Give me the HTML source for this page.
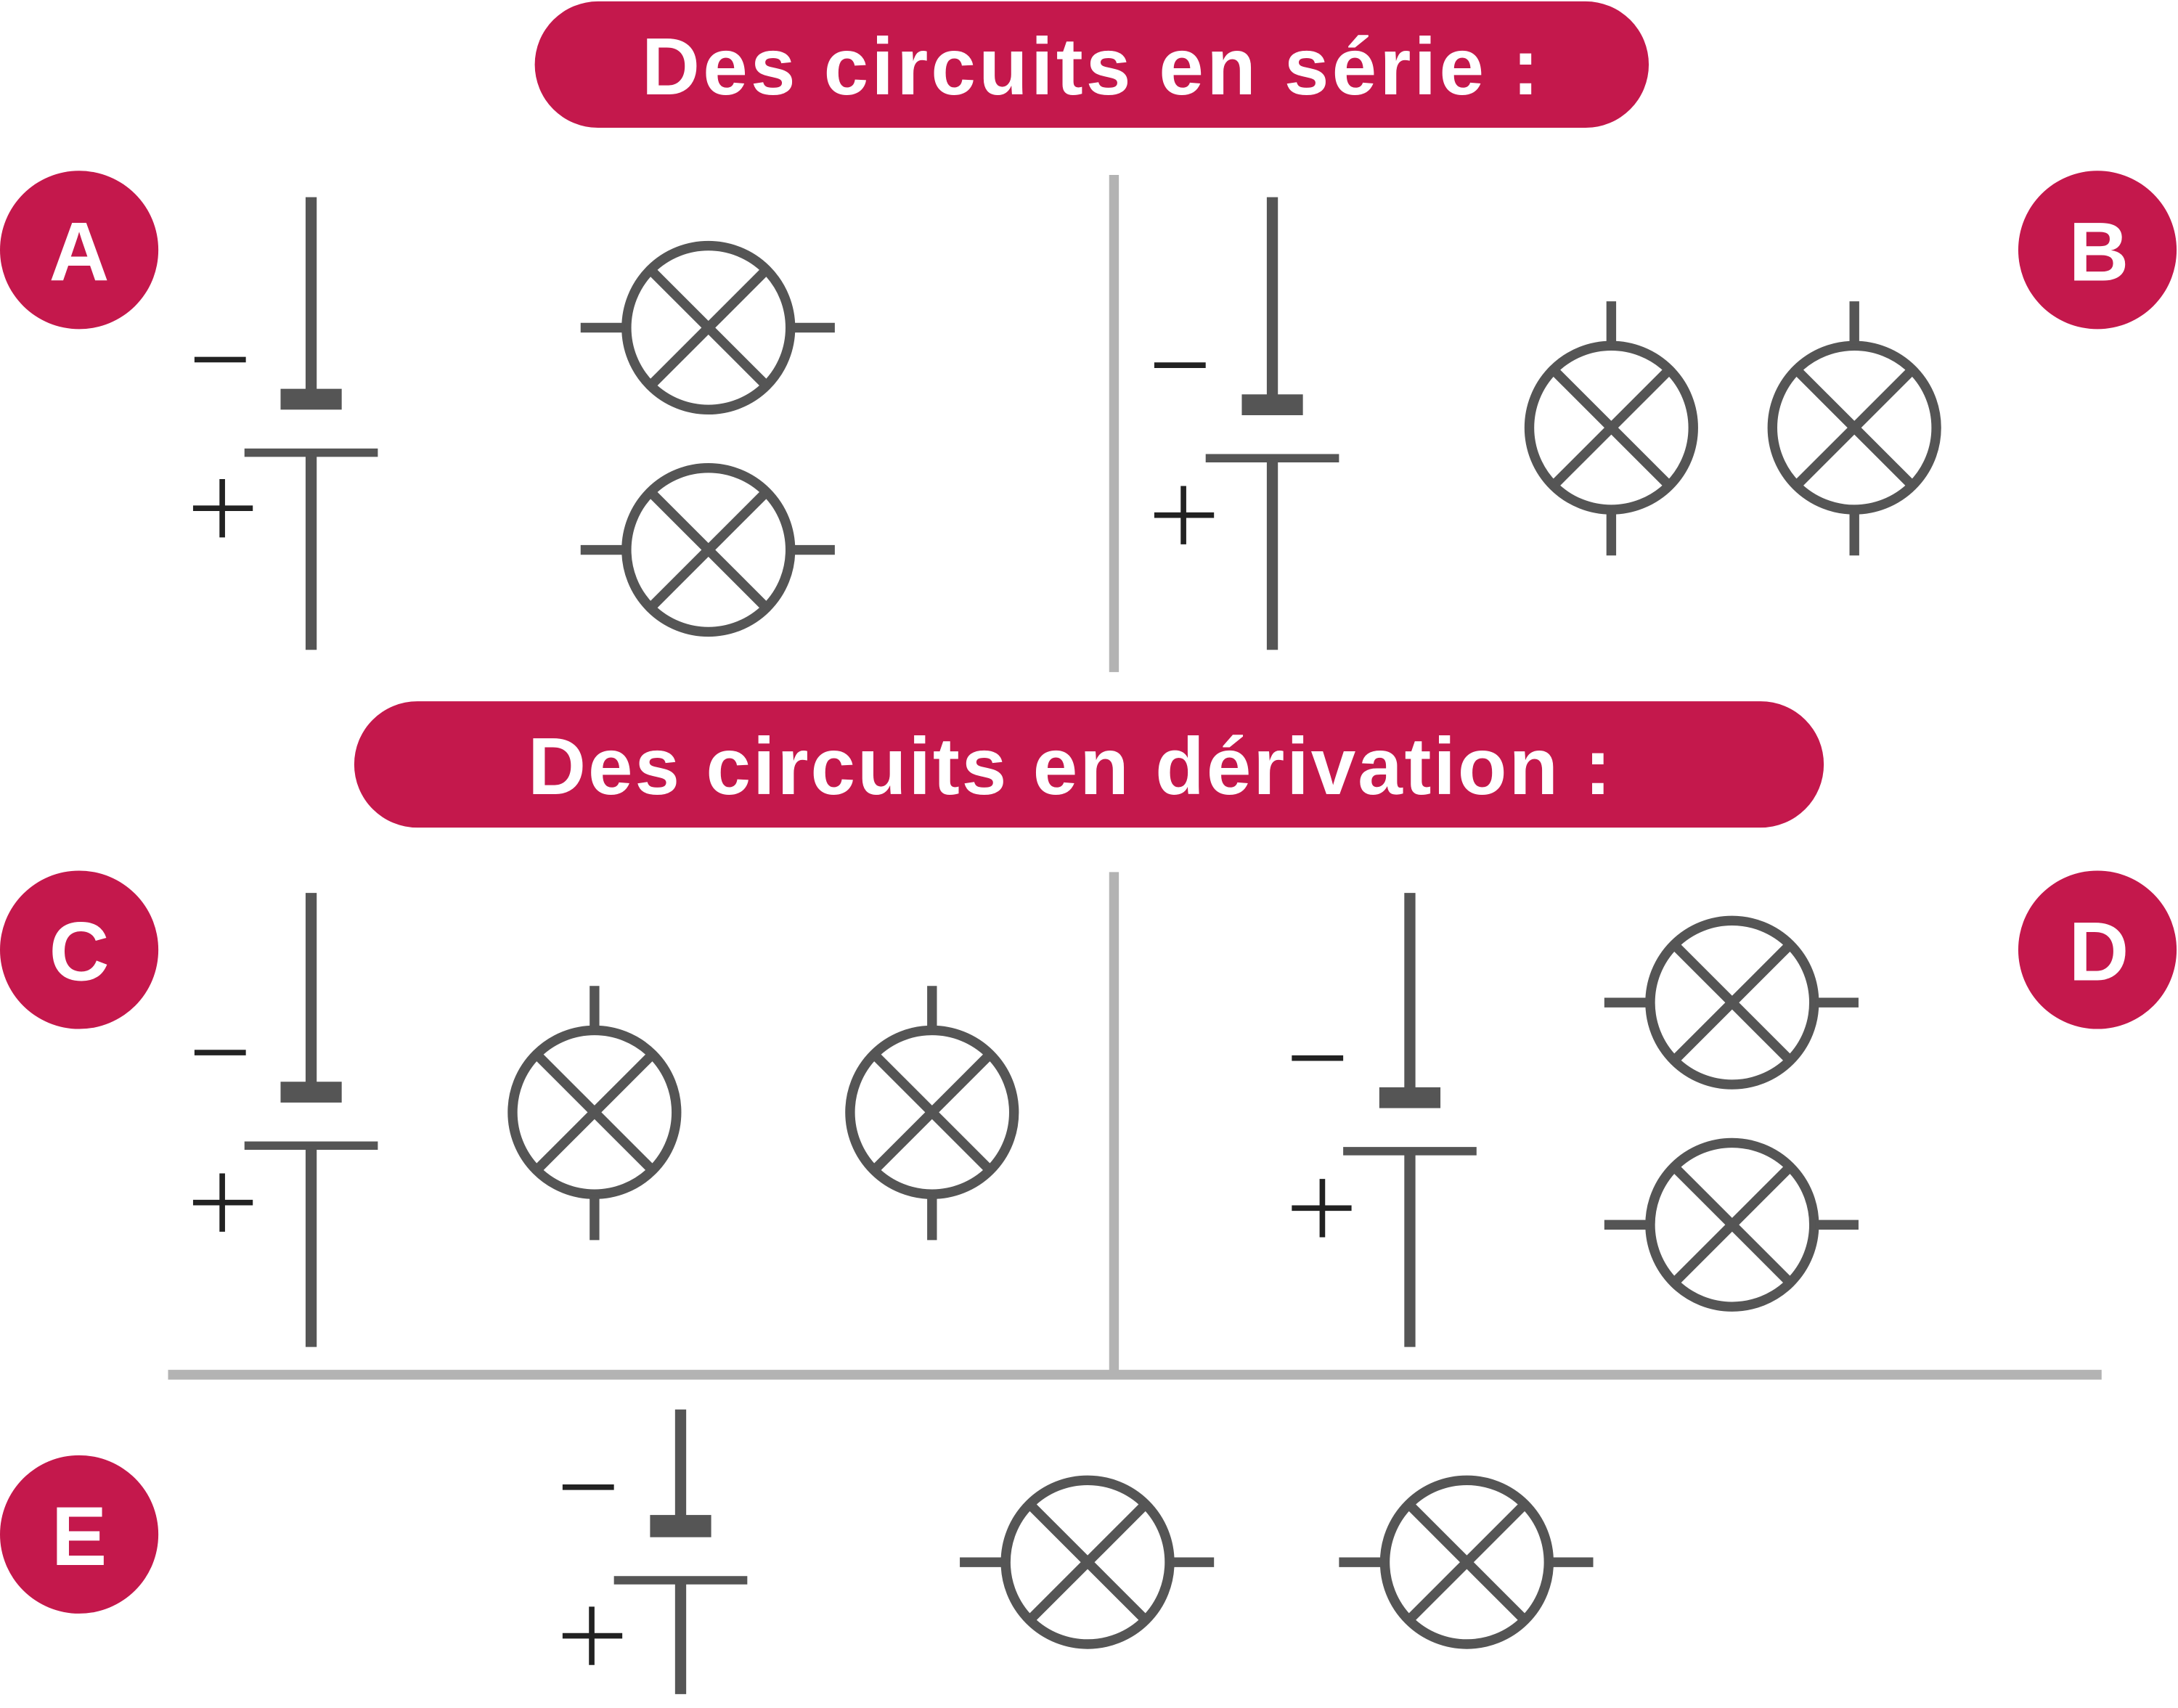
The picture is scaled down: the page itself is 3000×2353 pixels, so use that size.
<!DOCTYPE html>
<html><head><meta charset="utf-8"><style>
html,body{margin:0;padding:0;background:#fff;}
svg{display:block;}
</style></head><body>
<svg width="3000" height="2353" viewBox="0 0 1568 1230" preserveAspectRatio="none" xmlns="http://www.w3.org/2000/svg">
<defs>
<g id="lampH" stroke="#555" stroke-width="7" fill="none">
<circle cx="0" cy="0" r="59"/>
<line x1="-41" y1="-41" x2="41" y2="41"/><line x1="-41" y1="41" x2="41" y2="-41"/>
<line x1="-92" y1="0" x2="-60" y2="0"/><line x1="60" y1="0" x2="91" y2="0"/>
</g>
<g id="lampV" stroke="#555" stroke-width="7" fill="none">
<circle cx="0" cy="0" r="59"/>
<line x1="-41" y1="-41" x2="41" y2="41"/><line x1="-41" y1="41" x2="41" y2="-41"/>
<line x1="0" y1="-91" x2="0" y2="-60"/><line x1="0" y1="60" x2="0" y2="92"/>
</g>
</defs>
<g fill="#c4184c">
<rect x="385" y="1" width="802" height="91" rx="45.5"/>
<rect x="255" y="505" width="1058" height="91" rx="45.5"/>
<circle cx="57" cy="180" r="57"/><circle cx="1510" cy="180" r="57"/>
<circle cx="57" cy="684" r="57"/><circle cx="1510" cy="684" r="57"/>
<circle cx="57" cy="1105" r="57"/>
</g>
<g fill="#fff" font-family="Liberation Sans, sans-serif">
<text x="462" y="68" font-size="58" font-weight="bold" textLength="646" lengthAdjust="spacing">Des circuits en série :</text>
<text x="380" y="572" font-size="58" font-weight="bold" textLength="780" lengthAdjust="spacing">Des circuits en dérivation :</text>
<g font-size="60" font-weight="bold" text-anchor="middle">
<text x="57" y="202">A</text><text x="1511" y="202">B</text>
<text x="57" y="706">C</text><text x="1511" y="706">D</text>
<text x="57" y="1127">E</text>
</g>
</g>
<g stroke="#b3b3b3" stroke-width="7">
<line x1="802" y1="126" x2="802" y2="484"/>
<line x1="802" y1="628" x2="802" y2="988"/>
<line x1="121" y1="990" x2="1513" y2="990"/>
</g>
<g stroke="#555" fill="none">
<line x1="224" y1="142" x2="224" y2="282" stroke-width="8"/>
<rect x="202" y="280" width="44" height="15" fill="#555" stroke="none"/>
<line x1="176" y1="326" x2="272" y2="326" stroke-width="6"/>
<line x1="224" y1="326" x2="224" y2="468" stroke-width="8"/>
<line x1="916" y1="142" x2="916" y2="286" stroke-width="8"/>
<rect x="894" y="284" width="44" height="15" fill="#555" stroke="none"/>
<line x1="868" y1="330" x2="964" y2="330" stroke-width="6"/>
<line x1="916" y1="330" x2="916" y2="468" stroke-width="8"/>
<line x1="224" y1="643" x2="224" y2="781" stroke-width="8"/>
<rect x="202" y="779" width="44" height="15" fill="#555" stroke="none"/>
<line x1="176" y1="825" x2="272" y2="825" stroke-width="6"/>
<line x1="224" y1="825" x2="224" y2="970" stroke-width="8"/>
<line x1="1015" y1="643" x2="1015" y2="785" stroke-width="8"/>
<rect x="993" y="783" width="44" height="15" fill="#555" stroke="none"/>
<line x1="967" y1="829" x2="1063" y2="829" stroke-width="6"/>
<line x1="1015" y1="829" x2="1015" y2="970" stroke-width="8"/>
<line x1="490" y1="1015" x2="490" y2="1093" stroke-width="8"/>
<rect x="468" y="1091" width="44" height="16" fill="#555" stroke="none"/>
<line x1="442" y1="1138" x2="538" y2="1138" stroke-width="6"/>
<line x1="490" y1="1138" x2="490" y2="1220" stroke-width="8"/>
</g>
<g stroke="#222" stroke-width="4">
<line x1="140" y1="259" x2="177" y2="259"/><line x1="139" y1="366" x2="182" y2="366"/><line x1="160" y1="345" x2="160" y2="387"/>
<line x1="831" y1="263" x2="868" y2="263"/><line x1="831" y1="371" x2="874" y2="371"/><line x1="852" y1="350" x2="852" y2="392"/>
<line x1="140" y1="758" x2="177" y2="758"/><line x1="139" y1="866" x2="182" y2="866"/><line x1="160" y1="845" x2="160" y2="887"/>
<line x1="930" y1="762" x2="967" y2="762"/><line x1="930" y1="870" x2="973" y2="870"/><line x1="952" y1="849" x2="952" y2="891"/>
<line x1="405" y1="1071" x2="442" y2="1071"/><line x1="405" y1="1178" x2="448" y2="1178"/><line x1="426" y1="1157" x2="426" y2="1199"/>
</g>
<use href="#lampH" x="510" y="236"/><use href="#lampH" x="510" y="396"/>
<use href="#lampV" x="1160" y="308"/><use href="#lampV" x="1335" y="308"/>
<use href="#lampV" x="428" y="801"/><use href="#lampV" x="671" y="801"/>
<use href="#lampH" x="1247" y="722"/><use href="#lampH" x="1247" y="882"/>
<use href="#lampH" x="783" y="1125"/><use href="#lampH" x="1056" y="1125"/>
</svg>
</body></html>
